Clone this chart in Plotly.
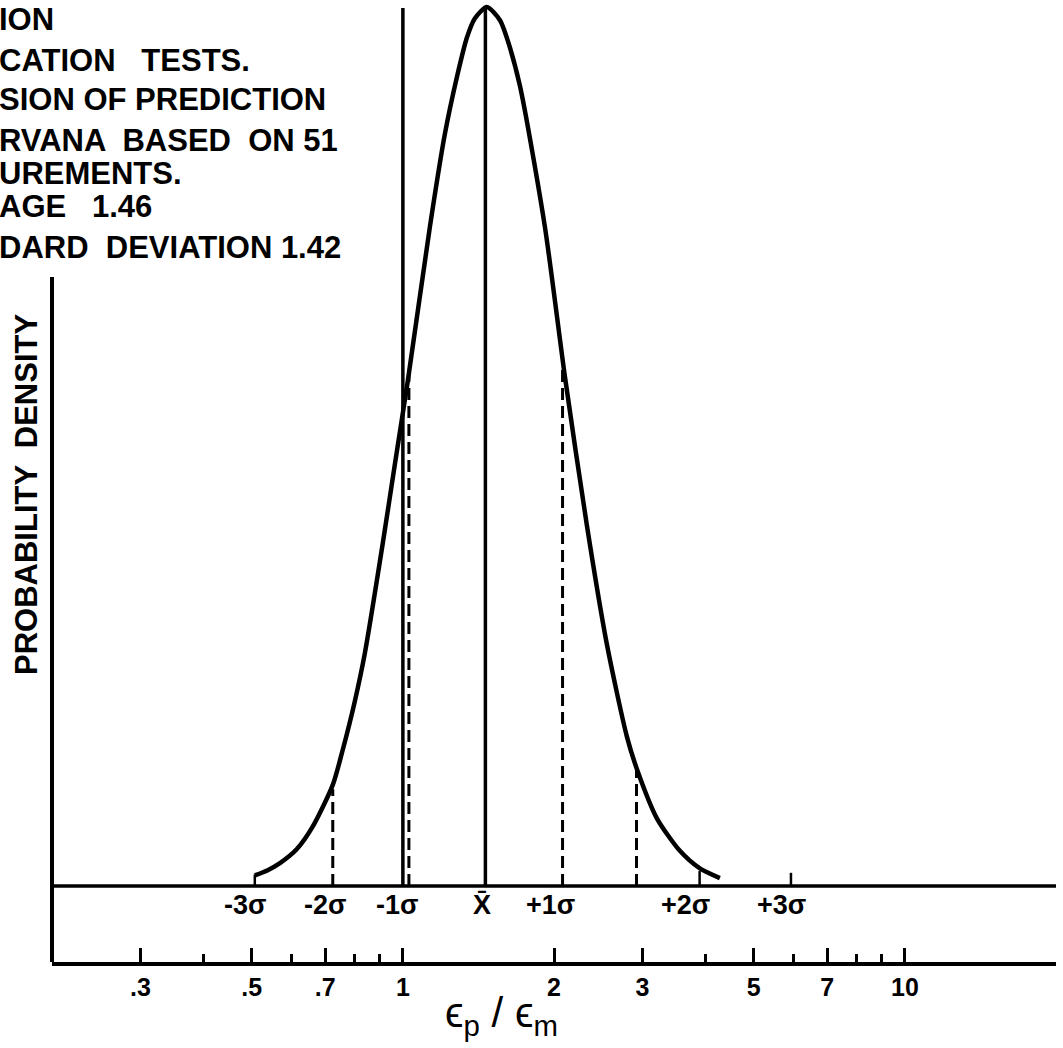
import math
import plotly.graph_objects as go

# ---------------- data ----------------
# density curve (x = eps_p/eps_m, h = relative density, peak = 1)
curve_x = [0.507, 0.538, 0.569, 0.615, 0.662, 0.725, 0.759, 0.802, 0.840, 0.912,
           0.964, 1.023, 1.132, 1.212, 1.281, 1.341, 1.391, 1.470, 1.561, 1.611,
           1.711, 1.918, 2.102, 2.326, 2.549, 2.794, 2.938, 3.206, 3.563, 3.905, 4.280]
curve_h = [0.012, 0.018, 0.026, 0.042, 0.068, 0.115, 0.155, 0.210, 0.265, 0.390,
           0.480, 0.575, 0.750, 0.855, 0.920, 0.965, 0.987, 1.000, 0.985, 0.965,
           0.910, 0.750, 0.580, 0.410, 0.275, 0.170, 0.130, 0.077, 0.040, 0.020, 0.009]

# dashed sigma lines (-2s, -1s, +1s, +2s) and the height where they meet the curve
sigma_dash_x = [0.725, 1.028, 2.08, 2.92]
sigma_dash_top = [0.110, 0.590, 0.590, 0.132]

# solid vertical lines: ratio = 1 and mean 1.46
solid_x = [1.0, 1.46]
solid_top = [0.999, 1.0]

# small tick marks on the sigma axis
sigma_tick_x = [0.507, 3.9, 5.93]
sigma_tick_h = [0.013, 0.017, 0.015]

# sigma-axis labels
sigma_labels = ["-3σ", "-2σ", "-1σ", "X̄", "+1σ", "+2σ", "+3σ"]
sigma_label_x = [0.484, 0.699, 0.973, 1.436, 1.972, 3.66, 5.69]

# bottom log axis
major_ticks = [0.3, 0.5, 0.7, 1, 2, 3, 5, 7, 10]
major_text = [".3", ".5", ".7", "1", "2", "3", "5", "7", "10"]
minor_ticks = [0.4, 0.6, 0.8, 0.9, 4, 6, 8, 9, 20]

x_min, x_max = 0.2, 20

note_lines = ["ION", "CATION   TESTS.", "SION OF PREDICTION", "RVANA  BASED  ON 51",
              "UREMENTS.", "AGE   1.46", "DARD  DEVIATION 1.42"]
note_y_px = [20, 60, 100, 140, 173, 207, 247]

# ---------------- figure ----------------
W, H = 1063, 1048
FONT = "Liberation Sans"
BLK = "black"

def vsegs(xs, tops):
    xx, yy = [], []
    for x, t in zip(xs, tops):
        xx += [x, x, None]
        yy += [0, t, None]
    return xx, yy

fig = go.Figure()

# sigma axis line
fig.add_trace(go.Scatter(x=[x_min, x_max], y=[0, 0], mode="lines",
                         line=dict(color=BLK, width=3.5), hoverinfo="skip"))
# density curve
fig.add_trace(go.Scatter(x=curve_x, y=curve_h, mode="lines",
                         line=dict(color=BLK, width=4.5, shape="spline", smoothing=0.7),
                         hoverinfo="skip"))
# dashed sigma lines
dx, dy = vsegs(sigma_dash_x, sigma_dash_top)
fig.add_trace(go.Scatter(x=dx, y=dy, mode="lines",
                         line=dict(color=BLK, width=3, dash="12px,6px"), hoverinfo="skip"))
# solid verticals
sx, sy = vsegs(solid_x, solid_top)
fig.add_trace(go.Scatter(x=sx, y=sy, mode="lines",
                         line=dict(color=BLK, width=3.5), hoverinfo="skip"))
# sigma ticks
tx, ty = vsegs(sigma_tick_x, sigma_tick_h)
fig.add_trace(go.Scatter(x=tx, y=ty, mode="lines",
                         line=dict(color=BLK, width=2.5), hoverinfo="skip"))
# invisible trace for the left axis (yaxis2)
fig.add_trace(go.Scatter(x=[1], y=[0.5], yaxis="y2", mode="markers",
                         marker=dict(opacity=0), hoverinfo="skip"))

# pixel geometry
y_sigma_px, y_peak_px, y_bottom_px, y_left_top_px = 886, 7, 962, 277
unit = (y_sigma_px - y_peak_px)
y_lo = -(y_bottom_px - y_sigma_px) / unit
y_hi = y_sigma_px / unit

x_dom = [52 / W, 1056 / W]
fig.update_layout(
    width=W, height=H, margin=dict(l=0, r=0, t=0, b=0),
    paper_bgcolor="white", plot_bgcolor="rgba(0,0,0,0)", showlegend=False,
    xaxis=dict(type="log", domain=x_dom, range=[math.log10(x_min), math.log10(x_max)],
               showgrid=False, zeroline=False, showline=True, linecolor=BLK, linewidth=3.5,
               ticks="inside", ticklen=14, tickwidth=2.5, tickcolor=BLK,
               tickmode="array", tickvals=major_ticks, ticktext=major_text,
               tickfont=dict(family=FONT, size=25, color=BLK, weight="bold"),
               minor=dict(tickmode="array", tickvals=minor_ticks, ticks="inside",
                          ticklen=8, tickwidth=2.5, tickcolor=BLK, showgrid=False)),
    yaxis=dict(domain=[(H - y_bottom_px) / H, 1], range=[y_lo, y_hi], visible=False),
    yaxis2=dict(domain=[(H - y_bottom_px) / H, (H - y_left_top_px) / H], range=[0, 1],
                anchor="free", position=x_dom[0], showline=True, linecolor=BLK,
                linewidth=3.5, showgrid=False, zeroline=False, showticklabels=False,
                ticks=""),
)

ann = []
for txt, yp in zip(note_lines, note_y_px):
    ann.append(dict(text=txt, x=0, xref="paper", xanchor="left", xshift=-3,
                    y=1 - yp / H, yref="paper", yanchor="middle", showarrow=False,
                    font=dict(family=FONT, size=31, color=BLK, weight="bold")))
for txt, xv in zip(sigma_labels, sigma_label_x):
    ann.append(dict(text=txt, x=math.log10(xv), xref="x", xanchor="center",
                    y=1 - 905 / H, yref="paper", yanchor="middle", showarrow=False,
                    font=dict(family=FONT, size=27, color=BLK, weight="bold")))
ann.append(dict(text="PROBABILITY  DENSITY", textangle=-90, x=27 / W, xref="paper",
                xanchor="center", y=1 - 495 / H, yref="paper", yanchor="middle",
                showarrow=False, font=dict(family=FONT, size=31, color=BLK, weight="bold")))
ann.append(dict(text="ϵ<sub>p</sub> / ϵ<sub>m</sub>", x=501 / W, xref="paper",
                xanchor="center", y=1 - 1015 / H, yref="paper", yanchor="middle",
                showarrow=False, font=dict(family=FONT, size=42, color=BLK)))
fig.update_layout(annotations=ann)

fig.write_html("out.html")
